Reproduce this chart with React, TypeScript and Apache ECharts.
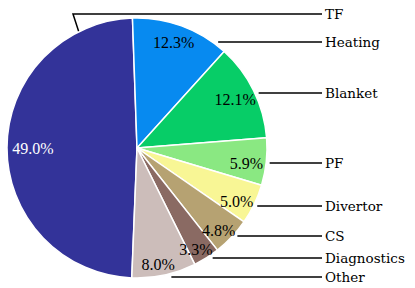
import React, { useEffect, useRef } from "react";
import * as echarts from "echarts";

// ---- data ----
const categories = ["TF", "Heating", "Blanket", "PF", "Divertor", "CS", "Diagnostics", "Other"];
const shares = [49.0, 12.3, 12.1, 5.9, 5.0, 4.8, 3.3, 8.0];
const sliceColors = ["#333399", "#078AF0", "#07CD67", "#8AE882", "#F8F695", "#B6A272", "#8A6A63", "#CCBDBA"];

// ---- layout (label rows on the right, small nudges for the percent texts) ----
const labelRowY = [14, 42, 93, 163, 206, 236, 258, 277];
const pctNudgeX = [12, -3, -6, -6, -5, -3, -3, -3];
const pctNudgeY = [1, 3, 3, 3, 3, 3, 3, 3];

const CX = 137;
const CY = 148;
const R = 130;
const RL = R + 3.5;
const LINE_END = 322;
const LABEL_X = 325;
const TF_ELBOW_X = 73;
const TF_ANCHOR_ANGLE = 116.6;
const START_ANGLE = 267.7;

export default function App() {
  const ref = useRef<HTMLDivElement>(null);
  useEffect(() => {
    if (!ref.current) return;
    const chart = echarts.init(ref.current, null, { renderer: "svg" });
    const data = categories.map((name, i) => ({
      name,
      value: shares[i],
      itemStyle: { color: sliceColors[i] },
    }));
    const pctData = categories.map((name, i) => ({
      name,
      value: shares[i],
      label: {
        color: i === 0 ? "#ffffff" : "#000000",
        fontFamily: "'Liberation Serif', serif",
        fontSize: 16,
      },
    }));
    chart.setOption({
      animation: false,
      backgroundColor: "#ffffff",
      series: [
        {
          type: "pie",
          center: [CX, CY],
          radius: [0, R],
          startAngle: START_ANGLE,
          clockwise: true,
          avoidLabelOverlap: false,
          silent: true,
          itemStyle: { borderColor: "#ffffff", borderWidth: 1.5 },
          label: {
            show: true,
            position: "outside",
            formatter: "{b}",
            fontFamily: "DejaVu Serif",
            fontSize: 13.5,
            color: "#000000",
          },
          labelLine: {
            show: true,
            smooth: false,
            lineStyle: { color: "#000000", width: 1.5 },
          },
          labelLayout: (p: any) => {
            const i = p.dataIndex;
            const y = labelRowY[i];
            let pts: number[][];
            if (i === 0) {
              const a = (TF_ANCHOR_ANGLE * Math.PI) / 180;
              pts = [
                [CX + R * Math.cos(a), CY - R * Math.sin(a)],
                [TF_ELBOW_X, y],
                [LINE_END, y],
              ];
            } else {
              const dy = y - CY;
              const xs = CX + Math.sqrt(Math.max(RL * RL - dy * dy, 0));
              pts = [
                [xs, y],
                [xs, y],
                [LINE_END, y],
              ];
            }
            return { x: LABEL_X, y, align: "left", verticalAlign: "middle", labelLinePoints: pts };
          },
          data,
        },
        {
          type: "pie",
          center: [CX, CY],
          radius: [96, R],
          startAngle: START_ANGLE,
          clockwise: true,
          avoidLabelOverlap: false,
          silent: true,
          itemStyle: { color: "rgba(0,0,0,0)", borderWidth: 0 },
          label: {
            show: true,
            position: "inside",
            formatter: (p: any) => `${Number(p.value).toFixed(1)}%`,
            fontFamily: "'Liberation Serif', serif",
            fontSize: 16,
            textBorderWidth: 0,
          },
          labelLine: { show: false },
          labelLayout: (p: any) => ({ dx: pctNudgeX[p.dataIndex], dy: pctNudgeY[p.dataIndex] }),
          data: pctData,
        },
      ],
    });
    return () => chart.dispose();
  }, []);
  return (
    <div
      ref={ref}
      style={{ position: "fixed", left: 0, top: 0, width: 415, height: 288 }}
    />
  );
}
